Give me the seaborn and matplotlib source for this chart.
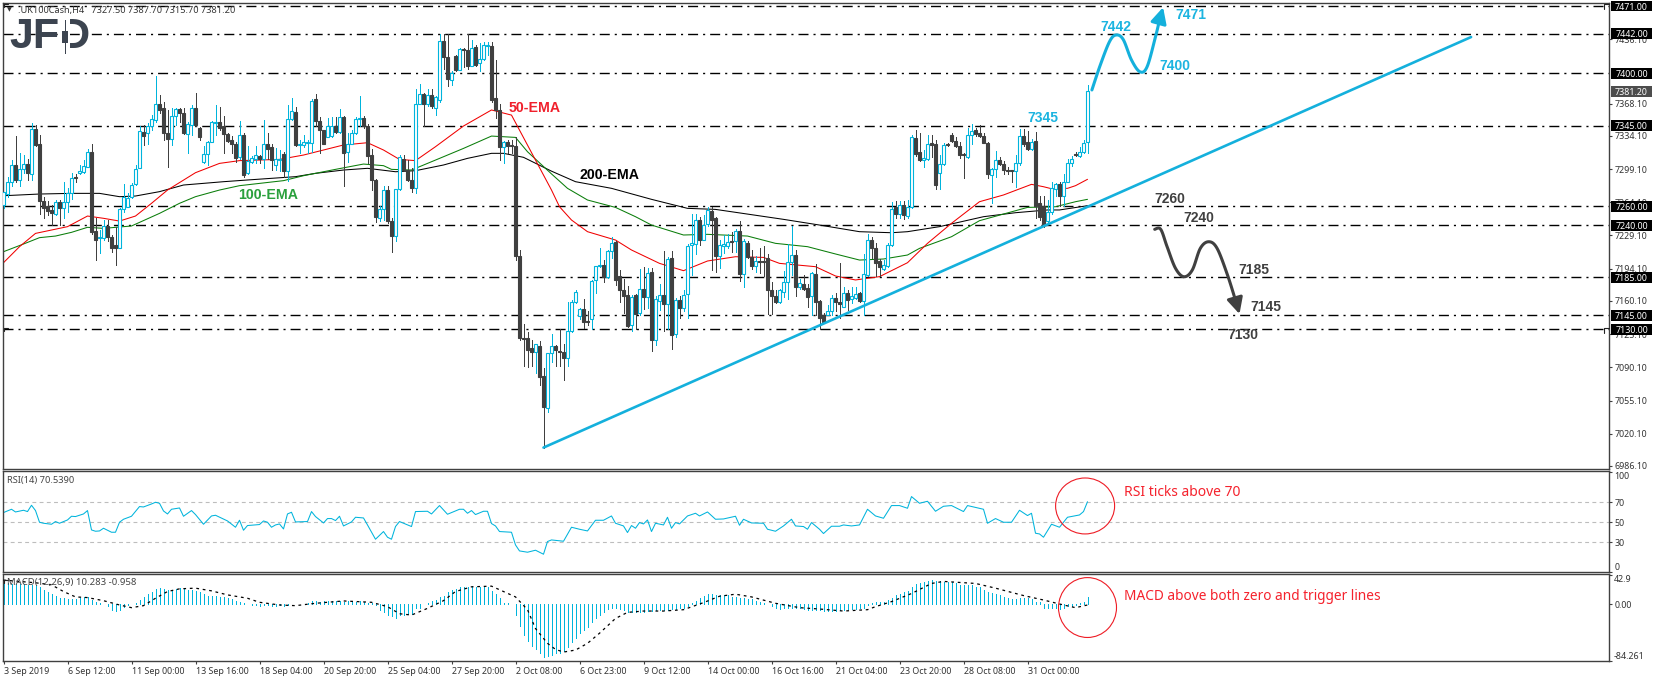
import numpy as np
import matplotlib
matplotlib.use('Agg')
import matplotlib.pyplot as plt
import seaborn as sns
from matplotlib.lines import Line2D
from matplotlib.patches import Ellipse, Rectangle
from matplotlib.transforms import blended_transform_factory

# H4 candles
opens = [7261,7273,7285,7303,7288,7299,7304,7294,7341,7326,
    7265,7260,7256,7252,7264,7258,7264,7274,7291,7295,
    7296,7301,7317,7234,7226,7226,7239,7228,7219,7216,
    7257,7259,7270,7283,7300,7338,7337,7345,7351,7368,
    7363,7337,7331,7355,7362,7358,7336,7346,7363,7342,
    7307,7315,7328,7348,7349,7344,7336,7330,7326,7312,
    7335,7295,7307,7310,7313,7310,7326,7322,7303,7309,
    7315,7297,7352,7359,7325,7324,7327,7327,7373,7350,
    7340,7333,7334,7345,7338,7354,7317,7326,7337,7352,
    7353,7345,7314,7288,7248,7257,7277,7244,7229,7278,
    7310,7298,7288,7279,7368,7378,7368,7377,7364,7372,
    7434,7417,7393,7418,7404,7426,7425,7408,7428,7411,
    7415,7429,7429,7374,7361,7322,7328,7324,7323,7207,
    7121,7121,7110,7106,7113,7081,7047,7105,7113,7107,
    7106,7100,7128,7159,7144,7152,7139,7141,7182,7197,
    7198,7185,7213,7222,7186,7172,7166,7135,7166,7147,
    7173,7164,7191,7119,7160,7166,7157,7205,7125,7161,
    7153,7167,7219,7220,7245,7224,7241,7255,7248,7207,
    7218,7218,7223,7223,7234,7189,7221,7206,7197,7202,
    7202,7205,7172,7165,7159,7170,7180,7201,7209,7175,
    7178,7174,7165,7189,7160,7145,7145,7149,7163,7159,
    7154,7168,7162,7163,7168,7160,7187,7224,7216,7202,
    7194,7197,7219,7259,7252,7261,7250,7259,7332,7317,
    7309,7310,7327,7326,7295,7304,7326,7335,7329,7323,
    7315,7312,7335,7340,7337,7334,7327,7293,7299,7309,
    7304,7298,7298,7297,7306,7334,7328,7320,7329,7263,
    7260,7244,7254,7278,7283,7271,7286,7306,7315,7313,
    7317,7327.5]
highs = [7275,7291,7309,7334,7316,7314,7310,7348,7346,7335,
    7270,7265,7261,7267,7267,7285,7279,7295,7294,7303,
    7309,7320,7326,7247,7235,7245,7245,7230,7238,7258,
    7283,7274,7284,7303,7344,7346,7348,7356,7397,7377,
    7370,7361,7363,7363,7364,7363,7349,7367,7379,7343,
    7323,7329,7350,7367,7365,7355,7337,7334,7328,7350,
    7337,7323,7313,7323,7314,7351,7337,7326,7321,7319,
    7317,7367,7374,7365,7330,7335,7330,7373,7378,7354,
    7340,7353,7354,7354,7362,7355,7337,7340,7354,7376,
    7355,7347,7320,7289,7260,7281,7281,7247,7278,7314,
    7314,7309,7300,7384,7389,7379,7383,7384,7376,7442,
    7442,7442,7402,7419,7427,7427,7442,7435,7430,7432,
    7433,7433,7433,7414,7368,7329,7330,7330,7333,7214,
    7136,7127,7119,7115,7118,7089,7105,7125,7114,7131,
    7115,7159,7161,7172,7153,7162,7149,7182,7197,7216,
    7203,7214,7227,7223,7193,7183,7176,7166,7167,7194,
    7196,7195,7195,7165,7178,7213,7206,7213,7163,7165,
    7172,7220,7252,7252,7249,7251,7259,7259,7249,7224,
    7230,7231,7233,7236,7244,7225,7223,7214,7207,7216,
    7218,7210,7180,7172,7173,7192,7220,7239,7214,7183,
    7187,7178,7191,7199,7161,7147,7156,7166,7168,7200,
    7175,7172,7175,7175,7170,7210,7231,7227,7221,7204,
    7203,7221,7264,7265,7265,7265,7267,7335,7340,7337,
    7319,7335,7335,7330,7314,7327,7327,7337,7333,7328,
    7316,7342,7347,7342,7346,7337,7328,7300,7318,7312,
    7308,7301,7298,7314,7341,7341,7339,7331,7338,7271,
    7271,7266,7286,7284,7286,7294,7310,7313,7317,7322,
    7330,7387.7]
lows = [7258,7270,7281,7286,7281,7295,7288,7288,7323,7252,
    7247,7251,7240,7251,7240,7247,7254,7268,7285,7294,
    7295,7301,7231,7203,7211,7224,7223,7212,7198,7216,
    7254,7259,7269,7282,7300,7325,7326,7340,7349,7358,
    7330,7301,7324,7346,7349,7336,7316,7335,7344,7330,
    7306,7303,7328,7335,7340,7316,7328,7316,7307,7310,
    7291,7294,7305,7306,7305,7300,7310,7298,7298,7297,
    7291,7287,7351,7323,7316,7322,7316,7317,7344,7316,
    7326,7333,7333,7337,7337,7281,7307,7326,7336,7344,
    7342,7305,7277,7243,7244,7245,7242,7212,7223,7277,
    7297,7287,7275,7274,7368,7344,7366,7364,7356,7370,
    7405,7387,7388,7403,7404,7407,7405,7408,7408,7402,
    7414,7419,7370,7353,7309,7305,7316,7316,7203,7119,
    7091,7090,7091,7084,7071,7005,7043,7096,7091,7091,
    7077,7092,7127,7158,7141,7132,7135,7131,7168,7196,
    7180,7184,7205,7177,7159,7147,7133,7128,7131,7145,
    7152,7153,7107,7114,7151,7128,7131,7109,7122,7142,
    7149,7142,7187,7210,7219,7224,7239,7193,7191,7195,
    7211,7216,7212,7212,7181,7175,7205,7194,7191,7190,
    7186,7146,7146,7158,7158,7164,7162,7187,7165,7173,
    7172,7154,7145,7145,7130,7138,7145,7145,7149,7142,
    7154,7151,7158,7162,7159,7145,7186,7205,7186,7186,
    7193,7196,7218,7247,7247,7246,7248,7258,7313,7308,
    7301,7309,7312,7278,7278,7303,7323,7328,7322,7311,
    7290,7311,7326,7334,7333,7327,7290,7263,7291,7303,
    7294,7294,7286,7280,7303,7323,7319,7319,7247,7245,
    7238,7242,7252,7271,7260,7260,7285,7302,7313,7312,
    7316,7315.7]
closes = [7275,7286,7303,7288,7299,7304,7295,7341,7325,7265,
    7258,7255,7253,7264,7258,7264,7274,7290,7290,7297,
    7302,7317,7233,7224,7227,7239,7227,7216,7216,7257,
    7270,7269,7282,7299,7339,7334,7345,7352,7368,7361,
    7337,7331,7355,7362,7358,7337,7347,7363,7346,7333,
    7315,7328,7349,7349,7342,7336,7329,7326,7311,7335,
    7293,7308,7311,7314,7310,7326,7320,7309,7310,7310,
    7297,7352,7360,7324,7326,7328,7328,7371,7350,7340,
    7326,7344,7345,7338,7354,7316,7326,7337,7352,7353,
    7345,7313,7288,7249,7257,7277,7244,7229,7278,7312,
    7298,7288,7279,7368,7378,7368,7377,7366,7375,7434,
    7417,7394,7400,7404,7426,7425,7408,7427,7409,7415,
    7430,7430,7372,7361,7322,7328,7323,7323,7207,7121,
    7120,7108,7106,7115,7080,7048,7105,7113,7108,7106,
    7100,7128,7159,7169,7152,7138,7138,7181,7197,7198,
    7185,7213,7221,7182,7172,7165,7134,7164,7146,7173,
    7164,7190,7119,7162,7166,7157,7204,7124,7161,7153,
    7166,7218,7221,7245,7224,7240,7256,7245,7207,7219,
    7220,7222,7222,7234,7189,7223,7206,7197,7202,7201,
    7201,7172,7165,7159,7172,7180,7201,7209,7175,7179,
    7173,7164,7190,7159,7142,7138,7149,7163,7159,7157,
    7168,7161,7165,7167,7160,7188,7224,7216,7200,7196,
    7198,7219,7257,7252,7261,7251,7259,7333,7315,7309,
    7311,7326,7324,7282,7304,7325,7325,7329,7323,7314,
    7314,7335,7339,7336,7334,7327,7294,7299,7309,7304,
    7298,7297,7297,7306,7334,7326,7320,7328,7260,7249,
    7241,7254,7279,7283,7271,7286,7306,7310,7314,7317,
    7327,7381.2]

# moving averages, read at the turning points
ema50_bars = [0,4,8,16,21,25,29,33,37,41,48,54,59,69,75,85,91,95,99,103,108,115,122,127,133,137,139,142,146,153,157,164,170,176,183,190,194,203,208,213,219,226,231,237,244,250,257,260,262,266,268,271]
ema50_vals = [7200.4,7217.3,7231.3,7238.4,7249.6,7247.2,7244.3,7249.6,7263,7277,7295.3,7305.1,7308,7309.3,7313.9,7324.5,7326.9,7319.2,7309.3,7308,7322.7,7344.5,7361.4,7356,7308.6,7277,7259.4,7245.4,7233.1,7224.3,7213.8,7199.7,7192,7202.2,7206.7,7206,7199.7,7196.2,7186.4,7182.2,7185.7,7200.4,7220.8,7241.9,7264.7,7271.8,7283,7280.5,7278.4,7278.8,7281.6,7288.3]
ema100_bars = [0,5,9,13,17,21,25,32,39,44,48,54,59,70,75,83,90,95,97,102,108,115,122,128,131,137,141,146,153,158,162,170,176,186,193,201,208,214,220,226,229,237,244,250,256,263,268,271]
ema100_vals = [7212,7220.1,7226.8,7228.5,7232.4,7237.7,7236.6,7239.1,7252.4,7263,7270,7277,7281.6,7286.9,7292.1,7298.8,7304.4,7302.7,7298.8,7298.1,7308.6,7320.9,7333.9,7332.5,7317.4,7294,7278.8,7266.5,7258.7,7248.9,7240.1,7229.6,7230.3,7228.5,7220.8,7217.3,7209.6,7203.2,7204.3,7208.5,7215.5,7227.8,7244.7,7251.7,7258.7,7259.4,7264.7,7267.2]
ema200_bars = [0,9,17,24,29,33,39,45,55,61,73,78,85,91,98,103,110,116,122,125,130,137,143,152,162,171,178,195,204,214,222,226,234,245,253,261,264,271]
ema200_vals = [7271,7272.8,7273.5,7273.5,7270,7270.7,7275.3,7282.3,7285.8,7287.6,7291.1,7294.6,7298.1,7299.9,7296.3,7297.4,7303.4,7310.4,7315.7,7315.7,7311.5,7296.9,7285.8,7278.8,7267.2,7257.7,7256.6,7246.1,7240.1,7233.1,7232,7233.1,7238.4,7248.9,7253.1,7256,7256,7260.5]

rsi_bars = [0,2,3,5,6,7,8,9,10,12,13,14,16,17,18,20,21,22,23,24,25,27,28,29,30,32,34,35,37,38,39,40,41,42,44,45,47,48,50,52,53,56,58,59,60,61,64,65,66,67,68,69,70,71,72,73,76,77,78,80,81,82,83,84,85,87,88,90,91,93,95,96,97,98,99,100,102,103,106,107,109,111,112,114,115,116,117,118,120,121,122,123,124,127,128,129,131,133,135,136,137,140,142,144,146,148,150,152,153,155,156,157,158,159,160,161,162,163,165,166,167,168,169,171,173,174,176,178,180,183,184,185,187,190,191,193,195,197,198,200,201,202,204,205,207,209,210,212,214,216,218,220,222,224,226,227,229,231,233,235,237,240,241,245,246,248,250,252,254,256,257,258,259,260,262,264,266,269,270,271]
rsi_vals = [59.7,63,60.3,62,60.7,67,61.7,50,49,48,50.7,49,52.3,56,55.7,58.3,61.7,42.3,41,41.3,44,40,40,50,53,56,65.7,65.3,68.3,70,69,61.3,58.3,63,64.3,56,61.7,57.7,48,56.3,57,51.3,45,52,42,46.7,47.7,51.3,50,45,47.3,48.3,43.3,58.3,60,50.3,50.7,60.7,55.7,49.3,53.7,53.7,51.7,56,46.3,50.3,55,54.3,47.3,33,40.7,35,33,45.7,50.7,49,45.7,60.7,61,58.3,66.7,58,59.7,63,63,59,61.7,57.7,61,61,48.7,46.3,40.7,40,27.3,21.3,20,22,18,30.7,32.3,31,45,43,41.3,52,52,56.3,49,46.3,39.7,46.7,44,49.7,48.3,52.3,40.7,49,47.3,55,44,49.7,48.3,56.3,59,56.3,60.3,53,53.3,56,47,53,49.3,49,43,41,46.3,53,46.3,45.7,43,49.7,43,38.7,46,46,47.3,46.3,47.3,63,56.3,54,66.7,66.7,64,75.7,69,71,61,66,66.7,60.7,66.7,63,49,53.7,50,50,62,56.7,59,39,38.3,35,48,45,55,57.3,60.7,70.54]

macd_hist = [31,31,30,30,30,30,29,28,28,26,
    22,18,15,12,10,9,8,8,8,10,
    11,11,7,4,1.5,1,-2,-8,-10,-8,
    -3.5,-1,.5,1.5,6.5,11,15,19,23,24,
    23,22,22,23,24,23,22,21,20,18,
    15,13,12,12,11,11,9,8,5,3.5,
    1.5,0,-.5,-1,-2,-.5,-.5,-2,-2,-1.5,
    -2,-.5,.5,.5,0,1,1.5,4.5,4.5,4,
    4.5,4.5,5,4.5,4.5,3.5,4.5,3.5,4,4.5,
    4,2.5,1.5,-1,-8,-11,-16,-18,-20,-16,
    -16,-14,-14,-6,-5,.5,1.5,5.5,6.5,11,
    13,18,21,23,25,25,26,27,25,25,
    25,25,20,15,9,2.5,1.5,1,-16,-32,
    -45,-54,-62,-67,-73,-78,-77,-75,-72,-72,
    -69,-63,-56,-50,-43,-38,-33,-27,-21,-16,
    -12,-7,-6,-6,-7,-8,-11,-11,-11,-11,
    -11,-10,-10,-9,-9,-8,-8,-7,-7,-6,
    -6,-2.5,1.5,4.5,10,12,15,16,14,14,
    14,14,11,11,10,9,8,8,4.5,3.5,
    1.5,0,-2.5,-6,-7,-6,-6,-5,-6,-6,
    -7,-8,-8,-8,-8,-10,-10,-10,-10,-8,
    -8,-7,-6.5,-6.5,-6,-6,-1,2.5,3,3,
    4,6.5,10,14,16,18,20,26,30,31,
    33,35,36,34,34,33,33,33,31,29,
    28,28,28,26,25,21,19,17,15,14,
    11,10,8,8,10,10,10,8,4,3,
    -5,-6,-6,-6,-7,-5,-2,-2,-1,1.5,
    4,10.28]
signal_bars = [0,8,12,15,18,21,25,29,32,35,38,41,44,48,52,56,61,64,69,73,78,85,92,96,99,102,106,110,113,117,122,125,128,131,133,136,138,140,143,146,149,153,156,160,165,170,175,179,183,187,193,199,204,210,216,218,222,227,232,235,243,248,255,260,265,268,271]
signal_vals = [36,32,29,19,11,10,5.4,-1,-5,-2,9,19,23,24,20,14,9,3,-1,-2,1.5,5,3,-3.5,-14,-16,-6,5.4,19,26,27,19,11,-8,-36,-58,-67,-71,-68,-58,-43,-21,-12,-10,-10,-8,2.5,12,15,11,1.5,-5,-7,-10,-8,-3.5,4,16,31,34,31,24,13,6.4,-1,-5,-1]

level_prices = [7471,7442,7400,7345,7260,7240,7185,7145,7130]
price_ticks = [7436.1,7368.1,7334.1,7299.1,7264.1,7229.1,7194.1,7160.1,7125.1,7090.1,7055.1,7020.1,6986.1]
last_price = 7381.2
time_ticks = [0,16,32,48,64,80,96,112,128,144,160,176,192,208,224,240,256]
time_labels = ['3 Sep 2019','6 Sep 12:00','11 Sep 00:00','13 Sep 16:00','18 Sep 04:00','20 Sep 20:00','25 Sep 04:00','27 Sep 20:00','2 Oct 08:00','6 Oct 23:00','9 Oct 12:00','14 Oct 00:00','16 Oct 16:00','21 Oct 04:00','23 Oct 20:00','28 Oct 08:00','31 Oct 00:00']

trend_bars = [135,366.9]
trend_prices = [7005.5,7438.3]
up_bars = [272.1,274.2,276.5,278.1,279.9,282,284.1,285.9,288,289]
up_prices = [7382.5,7408.8,7433.4,7440.4,7435.9,7414.1,7401.7,7407,7438.6,7456.2]
up_tip = (289.9,7469.7)
down_bars = [287.8,289.3,290.9,293,295.1,297.2,299.2,301.3,303.4,306,308.1]
down_prices = [7235.6,7235.6,7217.3,7194.5,7185.6,7192.7,7215.5,7222.5,7215.5,7187.4,7159.4]
down_tip = (309,7146.3)

W, H = 1655, 682
CYAN = '#00b4dc'
DARK = '#404040'
LOGO = '#3c4450'
BOLD = ['Liberation Sans', 'DejaVu Sans']

sns.set_theme(style='white')
plt.rcParams['font.family'] = ['Noto Sans', 'DejaVu Sans']
plt.rcParams['axes.edgecolor'] = DARK
plt.rcParams['axes.linewidth'] = 1.0


def panel(top, bottom):
    return fig.add_axes([2.8 / W, 1 - bottom / H, (1609 - 2.8) / W, (bottom - top) / H])


def label(x, y, s, **kw):
    fig.text(x / W, 1 - y / H, s, va='center', ha='left', **kw)


def corner(x0, x1, y0, y1):
    # small anchor mark of the terminal, in picture pixels
    fig.add_artist(Line2D([x0 / W, x0 / W, x1 / W], [1 - y1 / H, 1 - y0 / H, 1 - y0 / H], color='#222222', lw=0.8))


def block(x0, x1, y0, y1, col):
    fig.add_artist(Rectangle((x0 / W, 1 - y1 / H), (x1 - x0) / W, (y1 - y0) / H, facecolor=col, edgecolor='none', zorder=4))


def rounded(xs, ys, steps=12):
    # Catmull-Rom through the hand-drawn arrow's points
    pts = np.column_stack([xs, ys])
    pts = np.vstack([pts[0], pts, pts[-1]])
    out = []
    for i in range(1, len(pts) - 2):
        p0, p1, p2, p3 = pts[i - 1], pts[i], pts[i + 1], pts[i + 2]
        for t in np.linspace(0, 1, steps, endpoint=False):
            out.append(0.5 * (2 * p1 + (p2 - p0) * t + (2 * p0 - 5 * p1 + 4 * p2 - p3) * t ** 2
                              + (3 * p1 - p0 - 3 * p2 + p3) * t ** 3))
    out.append(pts[-2])
    out = np.array(out)
    return out[:, 0], out[:, 1]


fig = plt.figure(figsize=(W / 100, H / 100), dpi=100, facecolor='white')
ax = panel(2.7, 469.3)
ax_rsi = panel(471.3, 572.2)
ax_macd = panel(574.3, 661)

# price panel
dash = (0, (7.2, 3.6, 1.5, 3.6))
for lv in level_prices:
    ax.axhline(lv, color='black', lw=1.0, ls=dash, zorder=1)

sns.lineplot(x=ema200_bars, y=ema200_vals, ax=ax, color='black', lw=0.75, sort=False, errorbar=None, zorder=2)
sns.lineplot(x=ema100_bars, y=ema100_vals, ax=ax, color='#0a7d0a', lw=0.75, sort=False, errorbar=None, zorder=2)
sns.lineplot(x=ema50_bars, y=ema50_vals, ax=ax, color='#f00000', lw=0.75, sort=False, errorbar=None, zorder=2)

idx = np.arange(len(opens))
o, h, l, c = map(np.array, (opens, highs, lows, closes))
up = c >= o
ax.vlines(idx[up], l[up], h[up], color=CYAN, lw=0.72, antialiased=False, zorder=3)
ax.vlines(idx[~up], l[~up], h[~up], color=DARK, lw=0.72, antialiased=False, zorder=3)
ax.bar(idx[up], (c - o)[up], bottom=o[up], width=0.55, facecolor='white', edgecolor=CYAN, lw=0.8, zorder=4)
ax.bar(idx[~up], (o - c)[~up], bottom=c[~up], width=0.55, facecolor=DARK, edgecolor=DARK, lw=0.8, zorder=4)

sns.lineplot(x=trend_bars, y=trend_prices, ax=ax, color='#14b0dc', lw=1.9, errorbar=None, zorder=5)
ux, uy = rounded(up_bars, up_prices)
dx, dy = rounded(down_bars, down_prices)
sns.lineplot(x=ux, y=uy, ax=ax, color='#14b0dc', lw=2.2, sort=False, errorbar=None, zorder=5)
sns.lineplot(x=dx, y=dy, ax=ax, color=DARK, lw=2.2, sort=False, errorbar=None, zorder=5)
ax.annotate('', xy=up_tip, xytext=(up_bars[-1], up_prices[-1]), zorder=5,
            arrowprops=dict(arrowstyle='-|>', color='#14b0dc', lw=2.2, mutation_scale=24, shrinkA=0, shrinkB=0))
ax.annotate('', xy=down_tip, xytext=(down_bars[-1], down_prices[-1]), zorder=5,
            arrowprops=dict(arrowstyle='-|>', color=DARK, lw=2.2, mutation_scale=24, shrinkA=0, shrinkB=0))

ax.set_xlim(-0.175, 401.375)
ax.set_ylim(6982.6, 7474.5)
ax.set_yticks(price_ticks)
ax.set_yticklabels(['%.2f' % v for v in price_ticks])

# price boxes on the right scale
box_tr = blended_transform_factory(fig.transFigure, ax.transData)
box_h = 11.5
for lv, col in [(v, 'black') for v in level_prices] + [(last_price, '#4d4d4d')]:
    ax.add_patch(Rectangle((1611 / W, lv - box_h / 2), 41 / W, box_h, transform=box_tr,
                           facecolor=col, edgecolor='none', clip_on=False, zorder=8))
    ax.text(1631.5 / W, lv, '%.2f' % lv, transform=box_tr, color='white', fontsize=6.4,
            ha='center', va='center_baseline', zorder=9, clip_on=False)

# RSI panel
for lv in (70, 50, 30):
    ax_rsi.axhline(lv, color='#bdbdbd', lw=0.8, ls=(0, (3.5, 3)), zorder=1)
sns.lineplot(x=rsi_bars, y=rsi_vals, ax=ax_rsi, color=CYAN, lw=0.75, sort=False, errorbar=None, zorder=2)
ax_rsi.set_xlim(-0.175, 401.375)
ax_rsi.set_ylim(0.2, 101)
ax_rsi.set_yticks([100, 70, 50, 30, 0])
ax_rsi.set_yticklabels(['100', '70', '50', '30', '0'])
ax_rsi.add_patch(Ellipse((270.4, 66.3), 14.75, 56, fill=False, edgecolor='#ee1c25', lw=0.8, zorder=4))

# MACD panel
ax_macd.vlines(idx, 0, macd_hist, color=CYAN, lw=0.72, antialiased=False, zorder=2)
sns.lineplot(x=signal_bars, y=signal_vals, ax=ax_macd, color='black', lw=0.9, ls=(0, (2.2, 3)), sort=False, errorbar=None, zorder=3)
ax_macd.set_xlim(-0.175, 401.375)
ax_macd.set_ylim(-84.26, 44.6)
ax_macd.set_yticks([42.9, 0, -84.261])
ax_macd.set_yticklabels(['42.9', '0.00', '-84.261'])
ax_macd.add_patch(Ellipse((271, -4.8), 14.5, 89, fill=False, edgecolor='#ee1c25', lw=0.8, zorder=4))

for a in (ax, ax_rsi, ax_macd):
    a.yaxis.tick_right()
    a.tick_params(axis='y', direction='out', length=2.2, width=0.8, color=DARK, pad=1.5,
                  labelsize=6.4, labelcolor='#333333')
    a.set_xlabel('')
    a.set_ylabel('')
    a.set_xticks([])
    for s in a.spines.values():
        s.set_visible(True)
        s.set_color(DARK)

# end labels of the lower scales stay inside their panels
for a in (ax_rsi, ax_macd):
    ticks = a.yaxis.get_major_ticks()
    ticks[0].label2.set_va('top')
    ticks[-1].label2.set_va('bottom')

ax_macd.set_xticks(time_ticks)
ax_macd.set_xticklabels(time_labels, ha='left')
ax_macd.tick_params(axis='x', bottom=True, direction='out', length=2.5, width=0.8, color=DARK, pad=2,
                    labelsize=6.4, labelcolor='#333333')

# header, logo and chart notes
label(18, 10, '.UK100Cash,H4   7327.50 7387.70 7315.70 7381.20', fontsize=6.6, color='#333333')
fig.text(7 / W, 1 - 10 / H, '\u25bc', fontsize=4.5, color='#333333', va='center', ha='left', family='DejaVu Sans')
label(9, 37, 'JFD', fontsize=31, fontweight='bold', color=LOGO, family=BOLD)
block(60, 70, 18, 56, 'white')
block(64.5, 65.5, 20, 54, LOGO)
block(62.5, 67.5, 31, 43, LOGO)
label(7, 480.7, 'RSI(14) 70.5390', fontsize=6.7, color='#444444')
label(7, 583, 'MACD(12,26,9) 10.283 -0.958', fontsize=6.9, color='#444444')

label(509, 108, '50-EMA', fontsize=10.2, fontweight='bold', color='#f0202c', family=BOLD)
label(238, 195, '100-EMA', fontsize=10.2, fontweight='bold', color='#2aa03c', family=BOLD)
label(579, 175, '200-EMA', fontsize=10.2, fontweight='bold', color='black', family=BOLD)
for x, y, s in [(1027, 118, '7345'), (1100, 27, '7442'), (1175, 15, '7471'), (1159, 66, '7400')]:
    label(x, y, s, fontsize=10, fontweight='bold', color='#1cb4e0', family=BOLD)
for x, y, s in [(1154.5, 199, '7260'), (1183, 218, '7240'), (1238, 270, '7185'), (1250, 307, '7145'), (1227, 335, '7130')]:
    label(x, y, s, fontsize=10, fontweight='bold', color=DARK, family=BOLD)
label(1124, 492, 'RSI ticks above 70', fontsize=10, color='#f5222d')
label(1124, 596, 'MACD above both zero and trigger lines', fontsize=9.85, color='#f5222d')

corner(3.5, 8, 3.5, 7)
corner(3.5, 8, 327.5, 331)
corner(3.5, 8, 580, 583)
corner(1604, 1609, 4, 9)
corner(1604, 1609, 328, 333)

fig.savefig('out.png', dpi=100, facecolor='white')
